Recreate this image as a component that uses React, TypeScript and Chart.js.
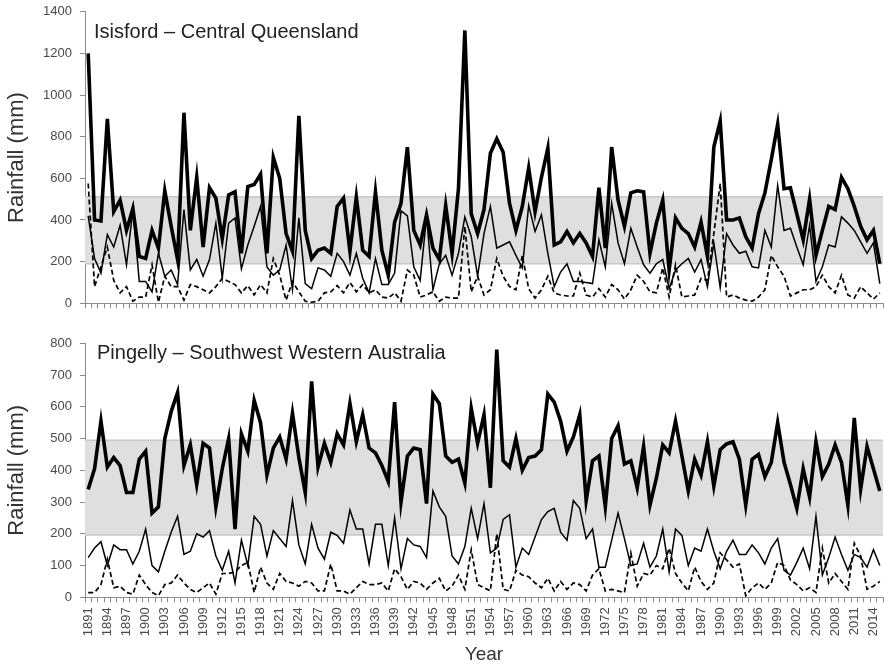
import React, { useEffect, useRef } from 'react';
import { Chart, registerables } from 'chart.js';

Chart.register(...registerables);

const FONT = "'Liberation Sans', Arial, Helvetica, sans-serif";

const years = [
  '1891','1892','1893','1894','1895','1896','1897','1898','1899','1900',
  '1901','1902','1903','1904','1905','1906','1907','1908','1909','1910',
  '1911','1912','1913','1914','1915','1916','1917','1918','1919','1920',
  '1921','1922','1923','1924','1925','1926','1927','1928','1929','1930',
  '1931','1932','1933','1934','1935','1936','1937','1938','1939','1940',
  '1941','1942','1943','1944','1945','1946','1947','1948','1949','1950',
  '1951','1952','1953','1954','1955','1956','1957','1958','1959','1960',
  '1961','1962','1963','1964','1965','1966','1967','1968','1969','1970',
  '1971','1972','1973','1974','1975','1976','1977','1978','1979','1980',
  '1981','1982','1983','1984','1985','1986','1987','1988','1989','1990',
  '1991','1992','1993','1994','1995','1996','1997','1998','1999','2000',
  '2001','2002','2003','2004','2005','2006','2007','2008','2009','2010',
  '2011','2012','2013','2014','2015'
];

const xTickLabels = [
  '1891','1894','1897','1900','1903','1906','1909','1912','1915','1918',
  '1921','1924','1927','1930','1933','1936','1939','1942','1945','1948',
  '1951','1954','1957','1960','1963','1966','1969','1972','1975','1978',
  '1981','1984','1987','1990','1993','1996','1999','2002','2005','2008',
  '2011','2014'
];

// Isisford – Central Queensland
const qldTotal = [
  1200,400,395,885,440,495,350,455,225,215,
  350,265,540,370,210,915,350,605,270,555,
  505,310,520,535,240,560,570,620,240,700,
  600,335,250,900,350,215,255,265,240,465,
  505,250,510,255,225,535,255,135,390,480,
  750,350,280,425,265,210,470,240,550,1310,
  430,335,450,720,790,725,480,350,465,650,
  440,605,745,280,295,345,290,335,290,225,
  555,265,750,495,370,530,540,535,240,385,
  495,160,410,360,335,270,390,225,750,875,
  400,400,410,320,265,430,530,690,860,550,
  555,430,305,500,230,350,465,450,605,550,
  465,370,305,350,190
];
const qldSeasonA = [
  420,215,145,330,270,375,185,450,105,105,
  55,240,130,160,90,450,160,210,130,210,
  385,120,385,410,165,280,370,465,175,135,
  160,280,65,410,95,70,170,160,130,240,
  200,135,240,120,50,215,90,90,145,445,
  420,175,110,415,65,190,230,135,240,415,
  320,130,335,465,265,280,295,230,170,470,
  345,425,240,80,150,190,105,105,100,95,
  305,175,480,290,190,360,270,185,145,190,
  210,70,160,190,215,150,210,80,290,75,
  335,280,240,250,175,170,350,270,565,350,
  360,270,185,375,105,175,280,270,415,385,
  350,295,240,290,95
];
const qldSeasonB = [
  575,80,175,270,110,50,80,10,30,30,
  185,5,130,80,80,15,90,80,65,50,
  80,120,105,90,50,85,40,90,50,215,
  135,15,105,55,10,5,10,50,55,85,
  50,100,55,90,50,65,30,25,50,10,
  160,135,30,40,55,10,30,25,25,370,
  55,130,40,65,215,130,80,65,230,70,
  25,65,130,50,40,35,35,145,40,30,
  70,30,90,65,20,65,135,105,55,50,
  170,30,185,30,35,40,120,110,335,575,
  30,40,25,15,10,30,65,230,175,130,
  35,50,65,65,80,135,80,50,135,40,
  25,80,50,20,50
];
const qldBand = [190, 512];
const qldAxisMax = 1400;
const qldAxisStep = 200;

// Pingelly – Southwest Western Australia
const pingTotal = [
  340,405,555,410,440,415,330,330,435,460,
  265,285,500,585,645,415,480,355,485,470,
  285,405,500,215,515,460,620,550,385,470,
  505,435,580,440,330,680,410,485,425,515,
  480,610,490,575,470,455,415,365,615,300,
  445,470,465,295,640,610,445,425,435,360,
  595,485,575,345,780,430,410,500,400,440,
  445,465,640,615,555,460,505,575,305,430,
  445,285,500,540,420,430,345,475,290,375,
  480,455,555,445,335,435,385,490,350,465,
  483,490,435,290,435,450,380,425,550,425,
  355,280,405,315,490,380,420,480,425,290,
  565,340,475,405,335
];
const pingSeasonA = [
  125,155,175,100,165,150,150,105,145,215,
  100,80,145,205,255,135,145,200,190,210,
  130,85,145,45,180,100,255,230,130,210,
  185,160,305,165,105,230,155,120,205,195,
  170,275,215,215,105,230,230,100,250,90,
  185,165,160,125,335,285,255,130,105,160,
  280,185,295,140,155,245,260,95,155,135,
  190,245,270,280,205,180,305,280,185,215,
  95,95,180,265,185,100,105,170,95,130,
  215,80,215,195,100,155,145,215,145,90,
  145,180,135,135,165,140,105,155,185,85,
  70,110,155,90,255,70,125,190,135,85,
  135,125,95,150,100
];
const pingSeasonB = [
  15,15,40,120,30,35,15,10,70,40,
  15,5,40,45,70,45,25,15,30,45,
  10,75,75,80,100,110,15,95,45,25,
  75,50,45,35,50,45,20,20,105,20,
  20,10,30,50,40,40,45,20,90,65,
  25,50,45,25,45,60,20,35,70,25,
  150,40,30,20,200,25,20,85,70,65,
  45,30,60,20,50,25,45,40,20,70,
  90,20,25,20,15,140,35,75,70,100,
  90,155,75,45,20,95,50,25,45,140,
  118,95,105,5,30,45,25,45,110,100,
  55,40,20,30,15,155,45,75,50,25,
  170,130,25,35,50
];
const pingBand = [196, 495];
const pingAxisMax = 800;
const pingAxisStep = 100;

const AXIS_GREY = '#8c8c8c';
const TEXT_GREY = '#4a4a4a';

const panelPlugin = {
  id: 'panel',
  beforeDatasetsDraw(chart: any, _args: any, opts: any) {
    const { ctx, chartArea, scales } = chart;
    const y = scales.y;
    const yHi = y.getPixelForValue(opts.band[1]);
    const yLo = y.getPixelForValue(opts.band[0]);
    ctx.save();
    ctx.fillStyle = '#dfdfdf';
    ctx.fillRect(chartArea.left, yHi, chartArea.right - chartArea.left, yLo - yHi);
    ctx.strokeStyle = '#c8c8c8';
    ctx.lineWidth = 1.5;
    ctx.beginPath();
    ctx.moveTo(chartArea.left, yHi);
    ctx.lineTo(chartArea.right, yHi);
    ctx.moveTo(chartArea.left, yLo);
    ctx.lineTo(chartArea.right, yLo);
    ctx.stroke();
    ctx.restore();
  },
  afterDatasetsDraw(chart: any, _args: any, opts: any) {
    const { ctx } = chart;
    ctx.save();
    ctx.font = `20px ${FONT}`;
    ctx.fillStyle = '#222222';
    ctx.textBaseline = 'alphabetic';
    ctx.textAlign = 'left';
    ctx.fillText(opts.title, opts.titleX, opts.titleBaseline);
    ctx.restore();
  },
};

function buildConfig(p: {
  total: number[];
  seasonA: number[];
  seasonB: number[];
  band: number[];
  max: number;
  step: number;
  title: string;
  titleX: number;
  titleBaseline: number;
  padTop: number;
  xHeight: number;
  showXLabels: boolean;
}): any {
  return {
    type: 'line',
    data: {
      labels: years,
      datasets: [
        { data: p.total, borderColor: '#000', borderWidth: 3.6, pointRadius: 0, tension: 0, fill: false },
        { data: p.seasonA, borderColor: '#000', borderWidth: 1.5, pointRadius: 0, tension: 0, fill: false },
        { data: p.seasonB, borderColor: '#000', borderWidth: 1.7, borderDash: [5, 3], pointRadius: 0, tension: 0, fill: false },
      ],
    },
    plugins: [panelPlugin],
    options: {
      animation: false,
      responsive: false,
      events: [],
      layout: { padding: { top: p.padTop, right: 1, left: 0, bottom: 0 } },
      plugins: {
        legend: { display: false },
        tooltip: { enabled: false },
        panel: { band: p.band, title: p.title, titleX: p.titleX, titleBaseline: p.titleBaseline },
      },
      scales: {
        x: {
          type: 'category',
          offset: true,
          grid: { display: true, drawOnChartArea: false, drawTicks: true, tickLength: 5, color: AXIS_GREY, offset: true },
          border: { display: true, color: AXIS_GREY, width: 1 },
          ticks: {
            display: p.showXLabels,
            autoSkip: false,
            minRotation: 90,
            maxRotation: 90,
            padding: 5,
            color: TEXT_GREY,
            font: { family: FONT, size: 13 },
            callback: function (this: any, value: any) {
              const lab = this.getLabelForValue(value);
              return xTickLabels.includes(lab) ? lab : '';
            },
          },
          title: {
            display: p.showXLabels,
            text: 'Year',
            color: '#333333',
            font: { family: FONT, size: 19 },
            padding: { top: 0, bottom: 0 },
          },
          afterFit: (scale: any) => {
            scale.height = p.xHeight;
            scale.paddingLeft = 0;
            scale.paddingRight = 0;
          },
        },
        y: {
          min: 0,
          max: p.max,
          grid: { display: true, drawOnChartArea: false, drawTicks: true, tickLength: 5, color: AXIS_GREY },
          border: { display: true, color: AXIS_GREY, width: 1 },
          ticks: {
            stepSize: p.step,
            padding: 8,
            color: TEXT_GREY,
            font: { family: FONT, size: 13 },
            callback: (value: any) => String(value),
          },
          title: {
            display: true,
            text: 'Rainfall (mm)',
            color: '#333333',
            font: { family: FONT, size: 22 },
            padding: { top: 4, bottom: 0 },
          },
          afterFit: (scale: any) => {
            scale.width = 85;
            scale.paddingTop = 0;
            scale.paddingBottom = 0;
          },
        },
      },
    },
  };
}

export default function App() {
  const topRef = useRef<HTMLCanvasElement>(null);
  const botRef = useRef<HTMLCanvasElement>(null);

  useEffect(() => {
    const top = new Chart(
      topRef.current as HTMLCanvasElement,
      buildConfig({
        total: qldTotal,
        seasonA: qldSeasonA,
        seasonB: qldSeasonB,
        band: qldBand,
        max: qldAxisMax,
        step: qldAxisStep,
        title: 'Isisford – Central Queensland',
        titleX: 94,
        titleBaseline: 38.3,
        padTop: 11.7,
        xHeight: 16.7,
        showXLabels: false,
      })
    );
    const bottom = new Chart(
      botRef.current as HTMLCanvasElement,
      buildConfig({
        total: pingTotal,
        seasonA: pingSeasonA,
        seasonB: pingSeasonB,
        band: pingBand,
        max: pingAxisMax,
        step: pingAxisStep,
        title: 'Pingelly – Southwest Western Australia',
        titleX: 97,
        titleBaseline: 39,
        padTop: 23.3,
        xHeight: 68.7,
        showXLabels: true,
      })
    );
    return () => {
      top.destroy();
      bottom.destroy();
    };
  }, []);

  return (
    <div style={{ position: 'absolute', left: 0, top: 0, width: 884, height: 666, background: '#ffffff' }}>
      <canvas ref={topRef} width={884} height={320} style={{ position: 'absolute', left: 0, top: 0 }} />
      <canvas ref={botRef} width={884} height={346} style={{ position: 'absolute', left: 0, top: 320 }} />
    </div>
  );
}
